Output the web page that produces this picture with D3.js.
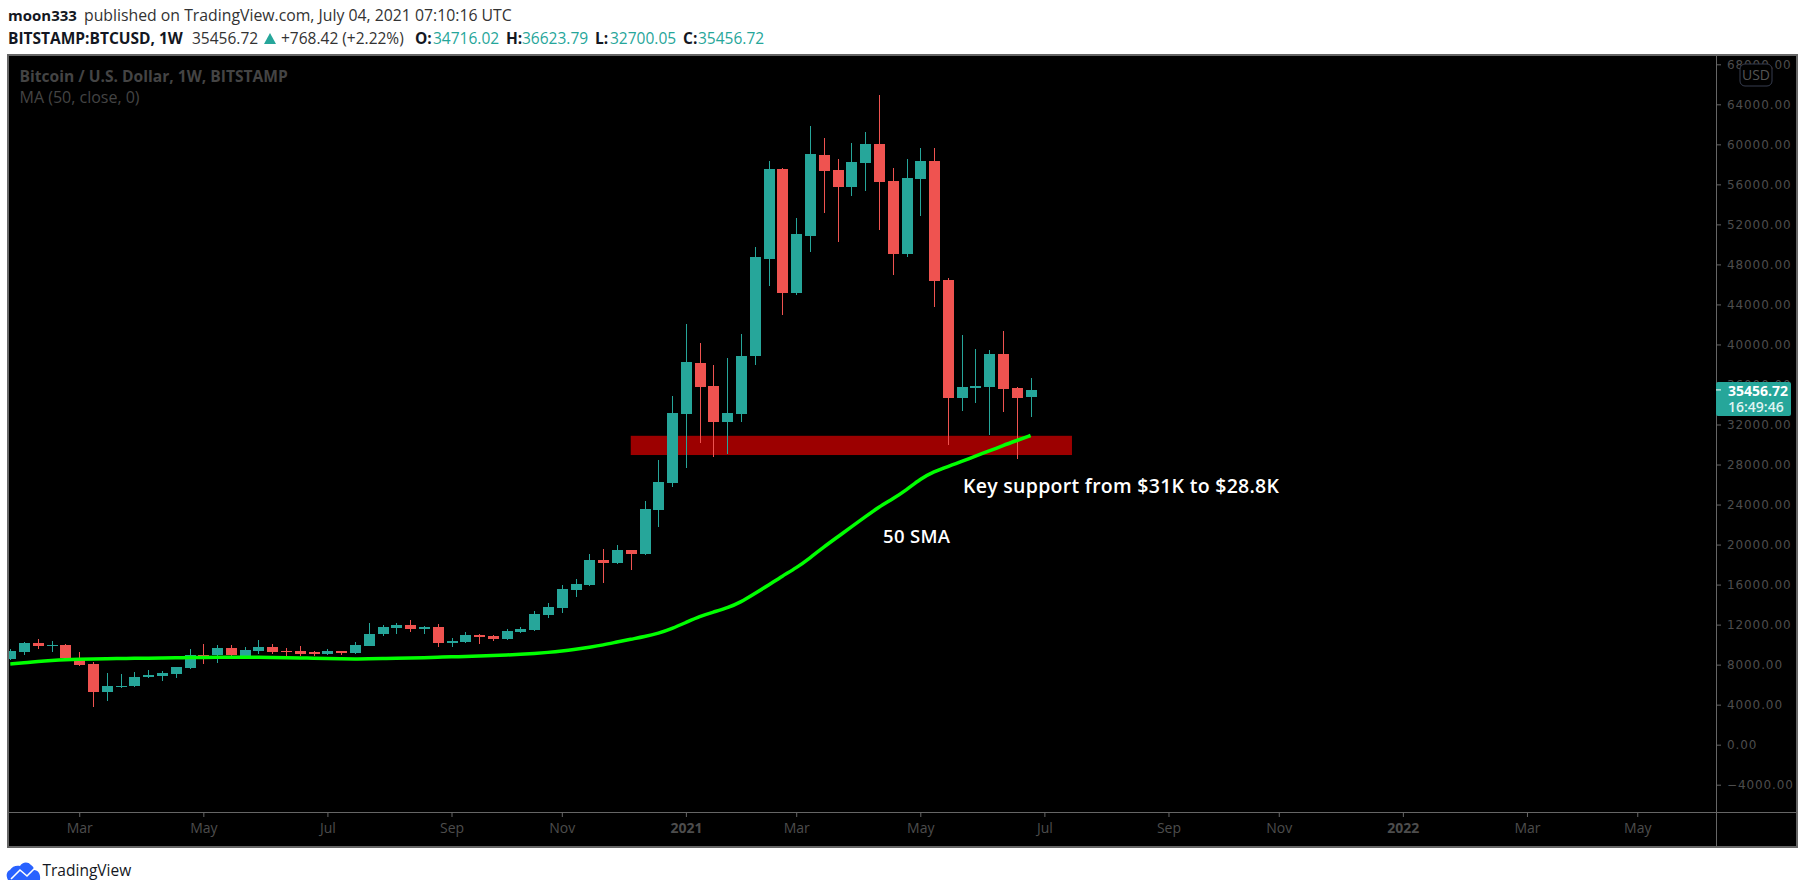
<!DOCTYPE html>
<html>
<head>
<meta charset="utf-8">
<script src="https://cdn.jsdelivr.net/npm/d3@7"></script>
<style>
html,body{margin:0;padding:0;background:#fff;}
svg{display:block;}
text{font-family:"Open Sans","Noto Sans",sans-serif;}
</style>
</head>
<body>
<script>
// Weekly BTCUSD candles, starting with the week of 27 Jan 2020
const firstWeek = "2020-01-27";
const opens = [8570,9270,10170,9900,9970,8670,8070,5270,5770,5870,6770,6870,7070,7670,8970,8970,9670,8800,9370,9770,9370,
  9370,9240,9070,9370,9170,9870,11070,11670,11970,11570,11770,10170,10270,10970,10870,10570,11270,11470,12970,13670,15470,15970,18470,18170,19470,19070,23470,26170,33070,38170,35870,32270,33070,38870,48570,57570,45170,50870,58970,57470,55770,58170,60070,56370,49070,56570,58370,46470,34670,35670,35770,39070,35670,34716.02];
const highs = [9570,10270,10570,10370,10070,9270,8270,7170,7070,7270,7470,7370,7800,9570,10070,9970,9970,9770,10470,10070,9670,
  9870,9370,9570,9400,10270,12170,11970,12170,12470,11870,12070,10670,11270,11070,10970,11570,11770,13370,14170,15970,16570,19070,19570,19970,19500,24370,28470,34870,42070,40170,37970,38670,41070,49770,58370,57670,52670,61870,60670,58570,60170,61270,64970,57670,58570,59670,59670,46670,40970,39570,39470,41370,35770,36623.79];
const lows = [8470,8970,9570,9270,8570,7870,3770,4370,5670,5770,6670,6370,6670,7570,8070,8200,8900,8700,9070,9070,8870,
  8870,8870,8970,8970,9070,9870,10870,11070,11270,11070,9770,9770,10170,10070,10370,10470,11170,11370,12670,13170,14770,15870,16170,18070,17470,18970,21770,25770,27670,30170,28770,29070,32270,37970,45870,42970,44970,49270,53170,50270,54870,55370,51470,46970,48770,52870,43770,29970,33370,34170,30970,33270,28570,32700.05];
const closes = [9370,10170,9870,9970,8670,7970,5270,5870,5870,6770,6970,7170,7770,8970,8870,9670,8970,9470,9770,9270,9270,
  9070,9140,9370,9170,9970,11070,11770,11970,11570,11770,10170,10370,10970,10770,10570,11370,11570,13070,13770,15570,16070,18470,18170,19470,19070,23570,26270,33170,38270,35770,32270,33170,38870,48770,57570,45170,51070,59070,57370,55770,58270,60070,56270,49070,56670,58370,46370,34670,35770,35870,39070,35570,34670,35456.72];
const sma50 = [8070,8190,8320,8420,8500,8540,8570,8590,8610,8630,8650,8670,8690,8700,8720,8740,8750,8750,8740,8720,8700,
  8670,8640,8610,8590,8570,8580,8600,8630,8660,8700,8740,8780,8820,8860,8900,8960,9030,9120,9220,9350,9530,9740,9960,10260,10540,10790,11130,11610,12210,12830,13260,13660,14260,15110,15960,16860,17660,18660,19760,20760,21760,22760,23760,24560,25460,26560,27300,27800,28300,28850,29350,29900,30400,30900];

const priceTicks = [68000,64000,60000,56000,52000,48000,44000,40000,36000,32000,28000,24000,20000,16000,12000,8000,4000,0,-4000];
const timeTickDates = ["2020-03-02","2020-05-04","2020-07-06","2020-09-07","2020-11-02","2021-01-04","2021-03-01","2021-05-03","2021-07-05","2021-09-06","2021-11-01","2022-01-03","2022-03-07","2022-05-02"];
const timeTickLabels = ["Mar","May","Jul","Sep","Nov","2021","Mar","May","Jul","Sep","Nov","2022","Mar","May"];
const supportBand = {from:"2020-12-07", to:"2021-07-19", top:30870, bottom:28950};
const lastPrice = 35456.72;
const countdown = "16:49:46";

const W=1805,H=894;
const L=8,T=55,PR=1716,OR=1797,TB=812,OB=847;
const FRAME="#666666",AXT="#4d4d4d",TEAL="#26a69a",RED="#ef5350";

const svg=d3.select("body").append("svg").attr("width",W).attr("height",H);
svg.append("rect").attr("width",W).attr("height",H).attr("fill","#fff");

const parse=d3.utcParse("%Y-%m-%d");
const t0=parse(firstWeek);
const weekDate=i=>d3.utcDay.offset(t0,7*i);
const x=d3.scaleUtc().domain([t0,weekDate(74)]).range([10.3,1030.6]);
const y=d3.scaleLinear().domain([-4000,68000]).range([784.7,64.3]);

// panel
svg.append("rect").attr("x",L).attr("y",T).attr("width",OR-L).attr("height",OB-T).attr("fill","#000");
svg.append("clipPath").attr("id","plot").append("rect").attr("x",L+1).attr("y",T+1).attr("width",PR-L-1).attr("height",TB-T-1);
const plot=svg.append("g").attr("clip-path","url(#plot)");

// support band
plot.append("rect")
  .attr("x",x(parse(supportBand.from))).attr("width",x(parse(supportBand.to))-x(parse(supportBand.from)))
  .attr("y",y(supportBand.top)).attr("height",y(supportBand.bottom)-y(supportBand.top))
  .attr("fill","#9c0000");

// candles
const candles=opens.map((o,i)=>({d:weekDate(i),o,h:highs[i],l:lows[i],c:closes[i]}));
const gC=plot.append("g").attr("shape-rendering","crispEdges");
const col=d=>d.c>=d.o?TEAL:RED;
gC.selectAll("rect.w").data(candles).join("rect").attr("class","w")
  .attr("x",d=>Math.round(x(d.d))).attr("width",1)
  .attr("y",d=>y(d.h)).attr("height",d=>y(d.l)-y(d.h)).attr("fill",col);
gC.selectAll("rect.b").data(candles).join("rect").attr("class","b")
  .attr("x",d=>Math.round(x(d.d))-5).attr("width",11)
  .attr("y",d=>y(Math.max(d.o,d.c))).attr("height",d=>Math.max(1.5,Math.abs(y(d.o)-y(d.c)))).attr("fill",col);

// SMA
plot.append("path").datum(sma50)
  .attr("d",d3.line().x((d,i)=>x(weekDate(i))).y(d=>y(d)).curve(d3.curveBasis))
  .attr("fill","none").attr("stroke","#00ff00").attr("stroke-width",3.5);

// annotations
svg.append("text").attr("x",963).attr("y",493).attr("fill","#fff").attr("font-size",19.5).attr("font-weight",600).attr("textLength",316).text("Key support from $31K to $28.8K");
svg.append("text").attr("x",883).attr("y",543).attr("fill","#fff").attr("font-size",18.5).attr("font-weight",600).attr("textLength",67).text("50 SMA");

// chart titles
svg.append("text").attr("x",19.5).attr("y",82).attr("fill","#444").attr("font-size",15.6).attr("font-weight",700).text("Bitcoin / U.S. Dollar, 1W, BITSTAMP");
svg.append("text").attr("x",19.5).attr("y",103).attr("fill","#444").attr("font-size",16).text("MA (50, close, 0)");

// price axis
const yAxis=d3.axisRight(y).tickValues(priceTicks).tickSize(5).tickPadding(6)
  .tickFormat(d=>(d<0?"\u2212":"")+Math.abs(d).toFixed(2));
const gy=svg.append("g").attr("transform",`translate(${PR},0)`).call(yAxis);
gy.select(".domain").remove();
gy.selectAll("line").attr("stroke",FRAME);
gy.selectAll("text").attr("fill",AXT).attr("letter-spacing","0.9px").style("font-family",'"DejaVu Sans"').attr("font-size",12);

// time axis
const tickDates=timeTickDates.map(parse);
const xAxis=d3.axisBottom(x).tickValues(tickDates).tickSize(5).tickPadding(6)
  .tickFormat((d,i)=>timeTickLabels[i]);
const gx=svg.append("g").attr("transform",`translate(0,${TB})`).call(xAxis);
gx.select(".domain").remove();
gx.selectAll("line").attr("stroke",FRAME);
gx.selectAll("text").attr("fill",AXT).attr("font-size",14)
  .attr("font-weight",(d,i)=>/^\d/.test(timeTickLabels[i])?700:400);

// frame lines
const fr=svg.append("g").attr("stroke",FRAME).attr("shape-rendering","crispEdges");
fr.append("rect").attr("x",L).attr("y",T).attr("width",OR-L).attr("height",OB-T).attr("fill","none").attr("stroke-width",2);
fr.append("line").attr("x1",PR).attr("x2",PR).attr("y1",T).attr("y2",OB);
fr.append("line").attr("x1",L).attr("x2",OR).attr("y1",TB).attr("y2",TB);

// USD badge
svg.append("rect").attr("x",1740).attr("y",64).attr("width",32).attr("height",22).attr("rx",5)
  .attr("fill","#000").attr("stroke","#363c4e");
svg.append("text").attr("x",1756).attr("y",80).attr("text-anchor","middle").attr("fill","#555").attr("font-size",14).text("USD");

// last-price label
svg.append("rect").attr("x",PR).attr("y",382).attr("width",75).attr("height",34).attr("rx",2).attr("fill",TEAL);
svg.append("line").attr("x1",PR).attr("x2",PR+5).attr("y1",y(lastPrice)).attr("y2",y(lastPrice)).attr("stroke","#fff");
svg.append("text").attr("x",1728).attr("y",396).attr("fill","#fff").attr("font-size",14).attr("font-weight",700).text(d3.format(".2f")(lastPrice));
svg.append("text").attr("x",1728).attr("y",412).attr("fill","#dff3f1").attr("font-size",14).attr("font-weight",600).text(countdown);

// header
const head=svg.append("g").attr("font-size",15);
head.append("text").attr("x",8).attr("y",21).attr("fill","#131722").attr("font-weight",700).text("moon333");
head.append("text").attr("x",84).attr("y",21).attr("fill","#333").attr("font-size",15.8).text("published on TradingView.com, July 04, 2021 07:10:16 UTC");
const line2=[[8,"BITSTAMP:BTCUSD, 1W",700,"#131722"],[192,"35456.72",400,"#333"],[281,"+768.42 (+2.22%)",400,"#333"],
 [415,"O:",700,"#131722"],[433,"34716.02",400,TEAL],[506,"H:",700,"#131722"],[522,"36623.79",400,TEAL],
 [595,"L:",700,"#131722"],[610,"32700.05",400,TEAL],[683,"C:",700,"#131722"],[698,"35456.72",400,TEAL]];
head.selectAll("text.l2").data(line2).join("text").attr("class","l2")
  .attr("x",d=>d[0]).attr("y",44).attr("font-size",15.5).attr("font-weight",d=>d[2]).attr("fill",d=>d[3]).text(d=>d[1]);
head.append("path").attr("d","M264,44L270,33L276,44Z").attr("fill",TEAL);

// TradingView logo
const logo=svg.append("g");
logo.append("path").attr("d","M8,880 C6,876 6,872 10,870 C12,866 17,865 20,866 C22,862 28,861 31,865 C34,867 34,869 34,870 C38,870 41,874 40,880 Z").attr("fill","#2962ff");
logo.append("path").attr("d","M11,879 L20,870 L27,876 L35,868").attr("fill","none").attr("stroke","#fff").attr("stroke-width",1.6);
svg.append("text").attr("x",42.5).attr("y",876).attr("fill","#131722").attr("font-size",15.5).text("TradingView");
</script>
</body>
</html>
